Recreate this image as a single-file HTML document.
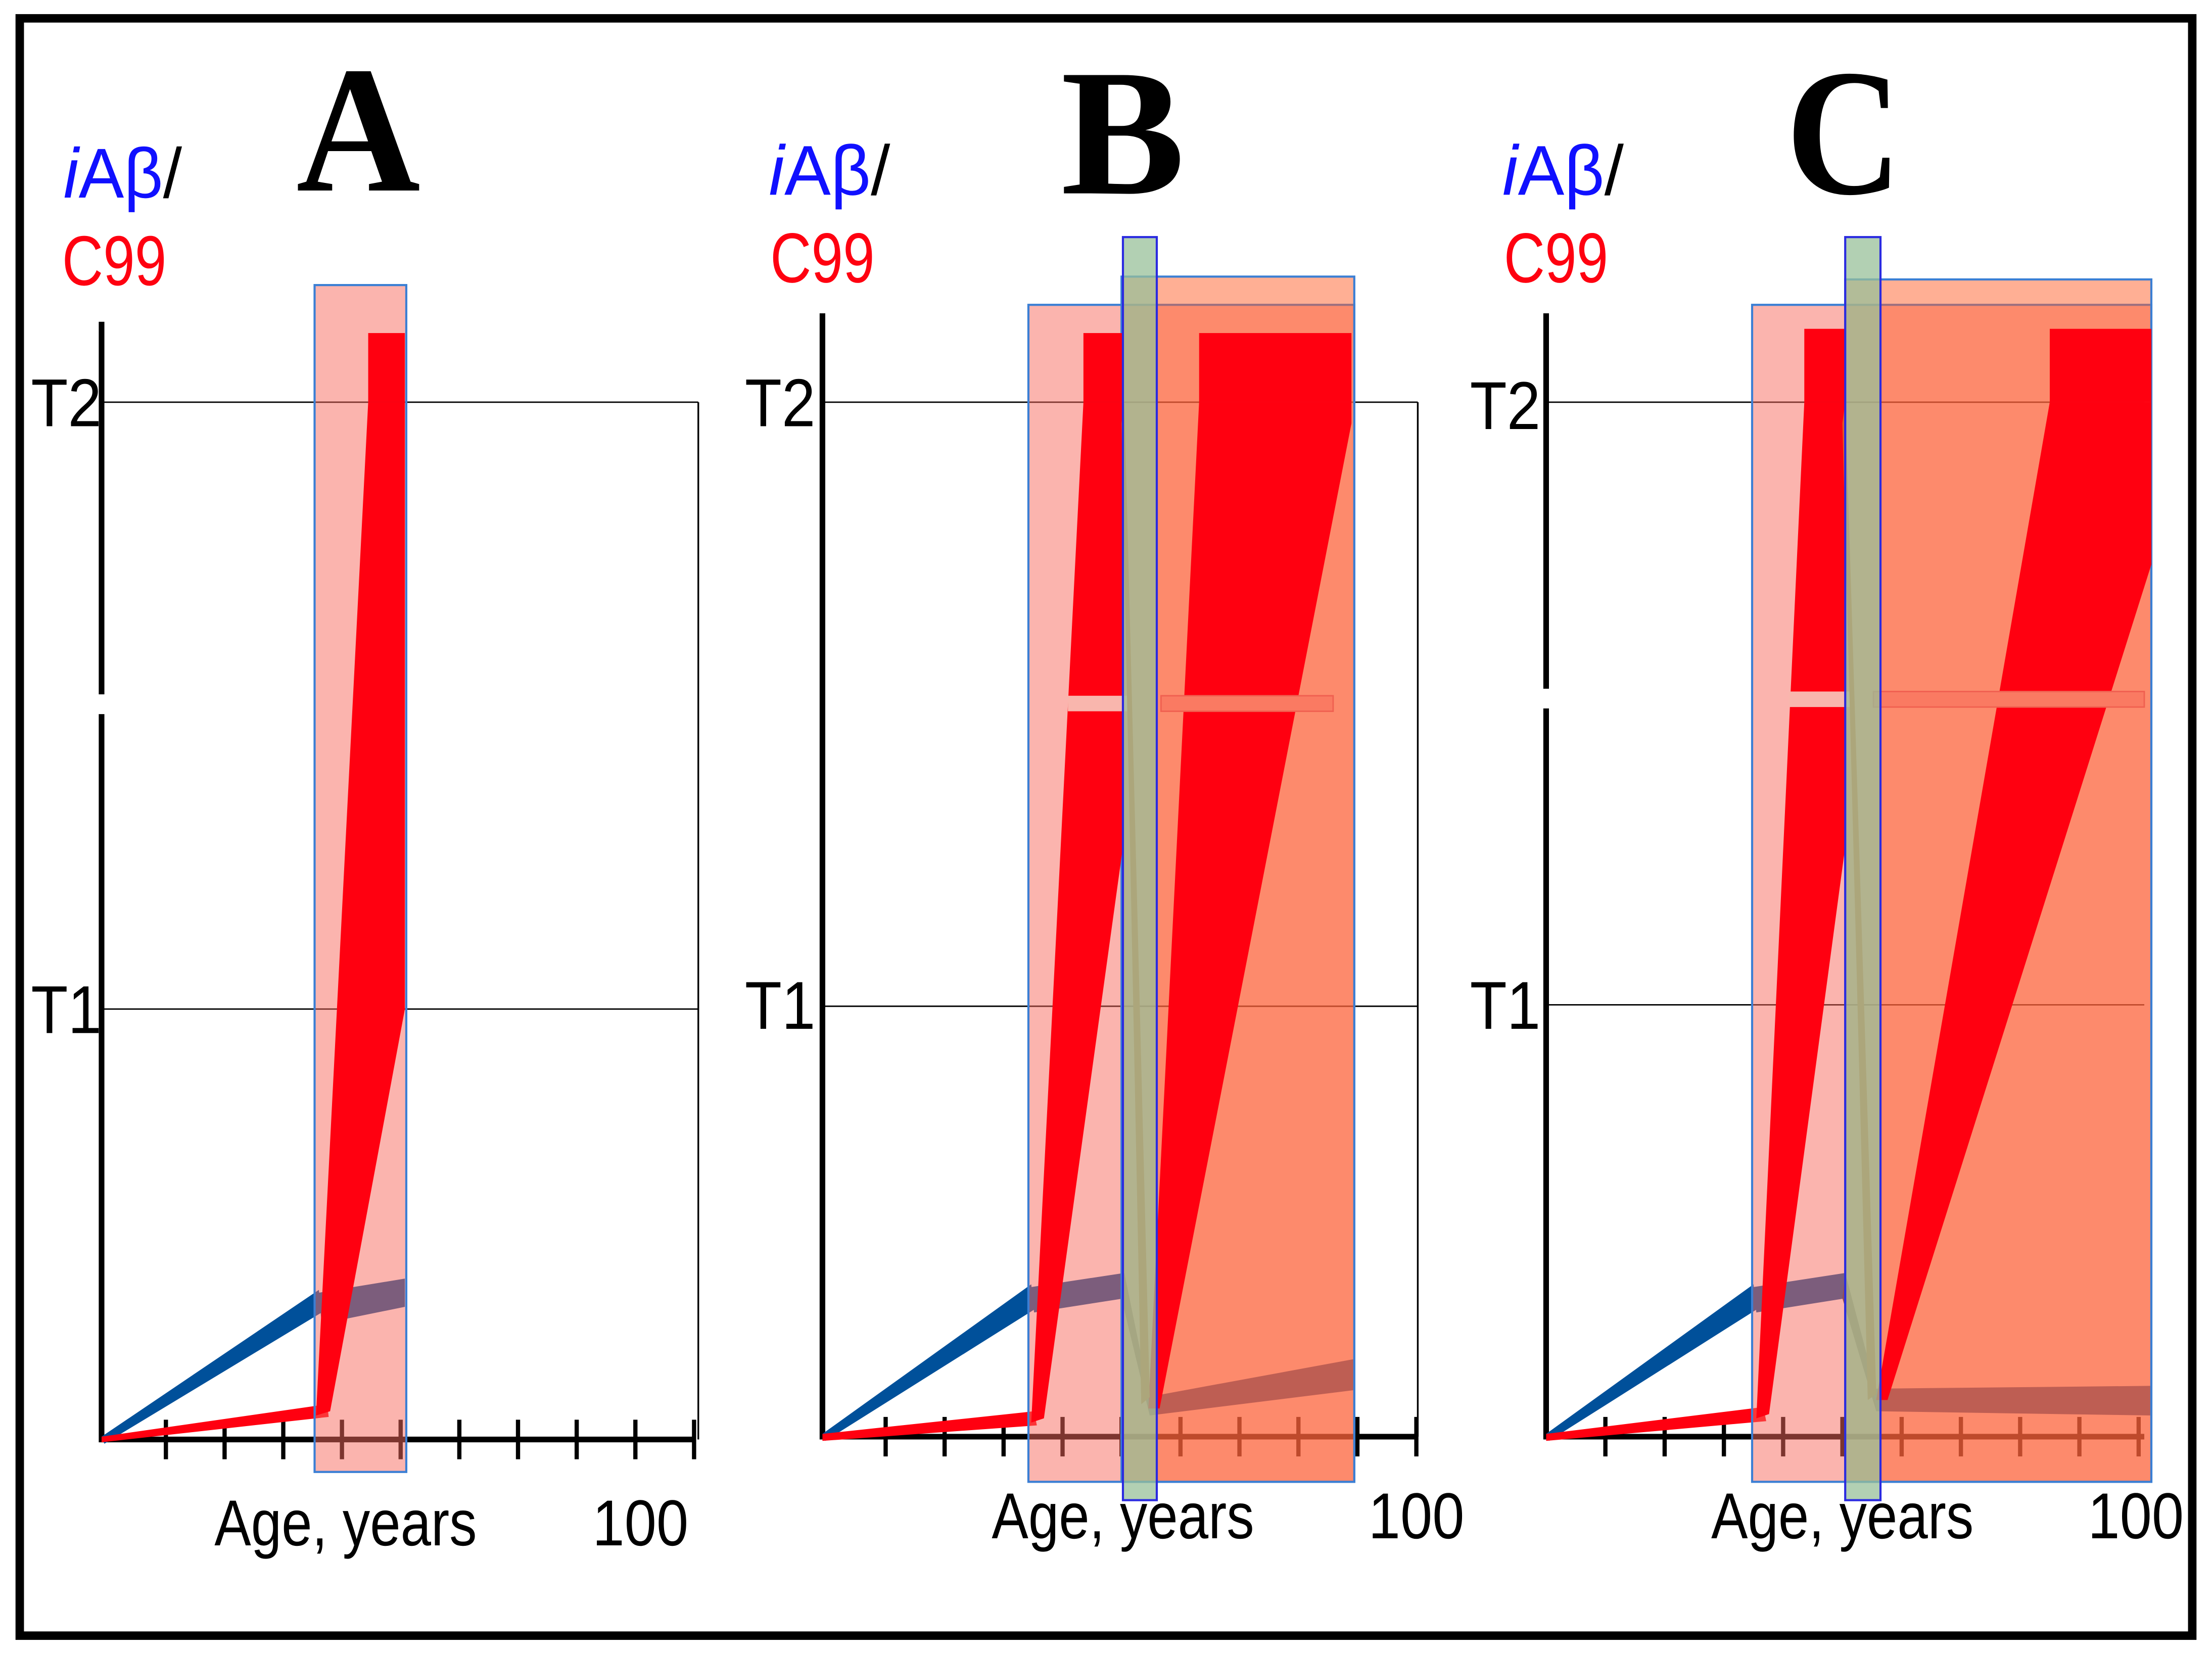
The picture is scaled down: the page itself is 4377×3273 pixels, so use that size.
<!DOCTYPE html>
<html><head><meta charset="utf-8"><style>
html,body{margin:0;padding:0;background:#fff}
svg{display:block}
text{font-family:"Liberation Sans",sans-serif}
.big{font-family:"Liberation Serif",serif;font-weight:bold}
</style></head><body>
<svg id="fig" width="4377" height="3273" viewBox="0 0 1568 1172" preserveAspectRatio="none">
<rect x="0" y="0" width="1568" height="1172" fill="#fff"/>
<rect x="14" y="13" width="1540" height="1146" fill="none" stroke="#000" stroke-width="6"/>

<!-- Panel A -->
<g id="pA">
 <line x1="72" y1="285" x2="495" y2="285" stroke="#000" stroke-width="1"/>
 <line x1="72" y1="715" x2="495" y2="715" stroke="#000" stroke-width="1"/>
 <line x1="495" y1="285" x2="495" y2="1020" stroke="#000" stroke-width="1.2"/>
 <line x1="72" y1="228" x2="72" y2="492" stroke="#000" stroke-width="4"/>
 <line x1="72" y1="506" x2="72" y2="1022" stroke="#000" stroke-width="4"/>
 <line x1="72" y1="1020" x2="492" y2="1020" stroke="#000" stroke-width="4"/>
 <g class="ticks" data-x0="76" data-y="1020" data-step="41.6"></g>
 <polygon points="72,1018 226,914 228,930 74,1023" fill="#00509a"/>
 <polygon points="226,916 287,906 287,926 228,938" fill="#00509a"/>
 <polygon points="72,1018 232,995 233,1004 72,1022" fill="#ff0010"/>
 <rect x="223" y="202" width="65" height="841" fill="rgb(247,105,93)" fill-opacity="0.5" stroke="#3b7fd4" stroke-width="1.5"/>
 <rect x="261" y="236" width="26" height="49" fill="#ff0010"/>
 <polygon points="224,1003 261,285 287,285 287,715 234,1000" fill="#ff0010"/>
 <text x="45" y="140" font-size="50" textLength="84" lengthAdjust="spacingAndGlyphs"><tspan fill="#1010ff" font-style="italic">i</tspan><tspan fill="#1010ff">Aβ</tspan><tspan fill="#000">/</tspan></text>
 <text x="44" y="202" font-size="50" fill="#ff0010" textLength="74" lengthAdjust="spacingAndGlyphs">C99</text>
 <text x="22" y="302" font-size="48" textLength="50" lengthAdjust="spacingAndGlyphs">T2</text>
 <text x="22" y="732" font-size="48" textLength="50" lengthAdjust="spacingAndGlyphs">T1</text>
 <text x="210" y="135" font-size="128" class="big" textLength="88" lengthAdjust="spacingAndGlyphs">A</text>
 <text x="152" y="1095" font-size="46" textLength="186" lengthAdjust="spacingAndGlyphs">Age, years</text>
 <text x="420" y="1095" font-size="46" textLength="68" lengthAdjust="spacingAndGlyphs">100</text>
</g>

<!-- Panel B -->
<g id="pB">
 <line x1="583" y1="285" x2="1005" y2="285" stroke="#000" stroke-width="1"/>
 <line x1="583" y1="713" x2="1005" y2="713" stroke="#000" stroke-width="1"/>
 <line x1="1005" y1="285" x2="1005" y2="1018" stroke="#000" stroke-width="1.2"/>
 <line x1="583" y1="222" x2="583" y2="1020" stroke="#000" stroke-width="4"/>
 <line x1="583" y1="1018" x2="1005" y2="1018" stroke="#000" stroke-width="4"/>
 <g class="ticks" data-x0="586" data-y="1018" data-step="41.8"></g>
 <polygon points="583,1016 731,910 733,928 585,1021" fill="#00509a"/>
 <polygon points="731,912 797,902 797,920 733,930" fill="#00509a"/>
 <polygon points="797,902 815,990 815,1003 795,920" fill="#303848"/>
 <polygon points="813,990 960,963 960,985 815,1003" fill="#00509a"/>
 <polygon points="583,1016 733,1000 735,1010 583,1021" fill="#ff0010"/>
 <rect x="729" y="216" width="231" height="834" fill="rgb(247,105,93)" fill-opacity="0.5" stroke="#3b7fd4" stroke-width="1.5"/>
 <rect x="795" y="196" width="165" height="854" fill="rgb(255,96,42)" fill-opacity="0.5" stroke="#3b7fd4" stroke-width="1.5"/>
 <rect x="768" y="236" width="28" height="49" fill="#ff0010"/>
 <rect x="850" y="236" width="108" height="49" fill="#ff0010"/>
 <polygon points="731,1008 768,285 796,285 796,600 740,1005" fill="#ff0010"/>
 <polygon points="814,998 850,285 958,285 958,300 822,998" fill="#ff0010"/>
 <rect x="757" y="493" width="42" height="11" fill="#f9b6ad"/>
 <rect x="823" y="493" width="122" height="11" fill="#fa7a62" stroke="#f06050" stroke-width="1"/>
 <polygon points="797,285 815,990 809,995 795,300" fill="#e55a20"/>
 <rect x="796" y="168" width="24" height="895" fill="#98c09a" fill-opacity="0.75" stroke="#2a2ae0" stroke-width="1.5"/>
 <text x="545" y="138" font-size="50" textLength="86" lengthAdjust="spacingAndGlyphs"><tspan fill="#1010ff" font-style="italic">i</tspan><tspan fill="#1010ff">Aβ</tspan><tspan fill="#000">/</tspan></text>
 <text x="546" y="200" font-size="50" fill="#ff0010" textLength="74" lengthAdjust="spacingAndGlyphs">C99</text>
 <text x="528" y="302" font-size="48" textLength="50" lengthAdjust="spacingAndGlyphs">T2</text>
 <text x="528" y="729" font-size="48" textLength="50" lengthAdjust="spacingAndGlyphs">T1</text>
 <text x="752" y="137" font-size="128" class="big" textLength="88" lengthAdjust="spacingAndGlyphs">B</text>
 <text x="703" y="1090" font-size="46" textLength="186" lengthAdjust="spacingAndGlyphs">Age, years</text>
 <text x="970" y="1090" font-size="46" textLength="68" lengthAdjust="spacingAndGlyphs">100</text>
</g>

<!-- Panel C -->
<g id="pC">
 <line x1="1096" y1="285" x2="1520" y2="285" stroke="#000" stroke-width="1"/>
 <line x1="1096" y1="712" x2="1520" y2="712" stroke="#000" stroke-width="1"/>
 <line x1="1096" y1="222" x2="1096" y2="488" stroke="#000" stroke-width="4"/>
 <line x1="1096" y1="502" x2="1096" y2="1020" stroke="#000" stroke-width="4"/>
 <line x1="1096" y1="1018" x2="1520" y2="1018" stroke="#000" stroke-width="4"/>
 <g class="ticks" data-x0="1096" data-y="1018" data-step="42"></g>
 <polygon points="1096,1016 1243,910 1245,928 1098,1021" fill="#00509a"/>
 <polygon points="1243,912 1308,902 1308,920 1245,930" fill="#00509a"/>
 <polygon points="1308,902 1330,985 1330,1000 1306,920" fill="#303848"/>
 <polygon points="1328,984 1525,982 1525,1003 1330,1000" fill="#00509a"/>
 <polygon points="1096,1016 1250,997 1252,1007 1096,1021" fill="#ff0010"/>
 <rect x="1242" y="216" width="283" height="834" fill="rgb(247,105,93)" fill-opacity="0.5" stroke="#3b7fd4" stroke-width="1.5"/>
 <rect x="1308" y="198" width="217" height="852" fill="rgb(255,96,42)" fill-opacity="0.5" stroke="#3b7fd4" stroke-width="1.5"/>
 <rect x="1279" y="233" width="29" height="52" fill="#ff0010"/>
 <rect x="1453" y="233" width="72" height="52" fill="#ff0010"/>
 <polygon points="1245,1005 1279,285 1308,285 1308,600 1254,1002" fill="#ff0010"/>
 <polygon points="1330,992 1453,285 1525,285 1525,400 1338,992" fill="#ff0010"/>
 <rect x="1268" y="490" width="46" height="11" fill="#f9b6ad"/>
 <rect x="1328" y="490" width="192" height="11" fill="#fa7a62" stroke="#f06050" stroke-width="1"/>
 <polygon points="1308,285 1330,988 1324,992 1306,300" fill="#e55a20"/>
 <rect x="1308" y="168" width="25" height="895" fill="#98c09a" fill-opacity="0.75" stroke="#2a2ae0" stroke-width="1.5"/>
 <text x="1065" y="138" font-size="50" textLength="86" lengthAdjust="spacingAndGlyphs"><tspan fill="#1010ff" font-style="italic">i</tspan><tspan fill="#1010ff">Aβ</tspan><tspan fill="#000">/</tspan></text>
 <text x="1066" y="200" font-size="50" fill="#ff0010" textLength="74" lengthAdjust="spacingAndGlyphs">C99</text>
 <text x="1042" y="304" font-size="48" textLength="50" lengthAdjust="spacingAndGlyphs">T2</text>
 <text x="1042" y="729" font-size="48" textLength="50" lengthAdjust="spacingAndGlyphs">T1</text>
 <text x="1266" y="137" font-size="128" class="big" textLength="82" lengthAdjust="spacingAndGlyphs">C</text>
 <text x="1213" y="1090" font-size="46" textLength="186" lengthAdjust="spacingAndGlyphs">Age, years</text>
 <text x="1480" y="1090" font-size="46" textLength="68" lengthAdjust="spacingAndGlyphs">100</text>
</g>
</svg>
<script>
const tickAges = [10, 20, 30, 40, 50, 60, 70, 80, 90, 100];
const NS = 'http://www.w3.org/2000/svg';
document.querySelectorAll('g.ticks').forEach(function (g) {
  const x0 = parseFloat(g.getAttribute('data-x0'));
  const y = parseFloat(g.getAttribute('data-y'));
  const step = parseFloat(g.getAttribute('data-step'));
  tickAges.forEach(function (age) {
    const x = x0 + (age / 10) * step;
    const t = document.createElementNS(NS, 'line');
    t.setAttribute('x1', x); t.setAttribute('x2', x);
    t.setAttribute('y1', y - 14); t.setAttribute('y2', y + 14);
    t.setAttribute('stroke', '#000'); t.setAttribute('stroke-width', '3');
    
    
    g.appendChild(t);
  });
});
</script>
</body></html>
